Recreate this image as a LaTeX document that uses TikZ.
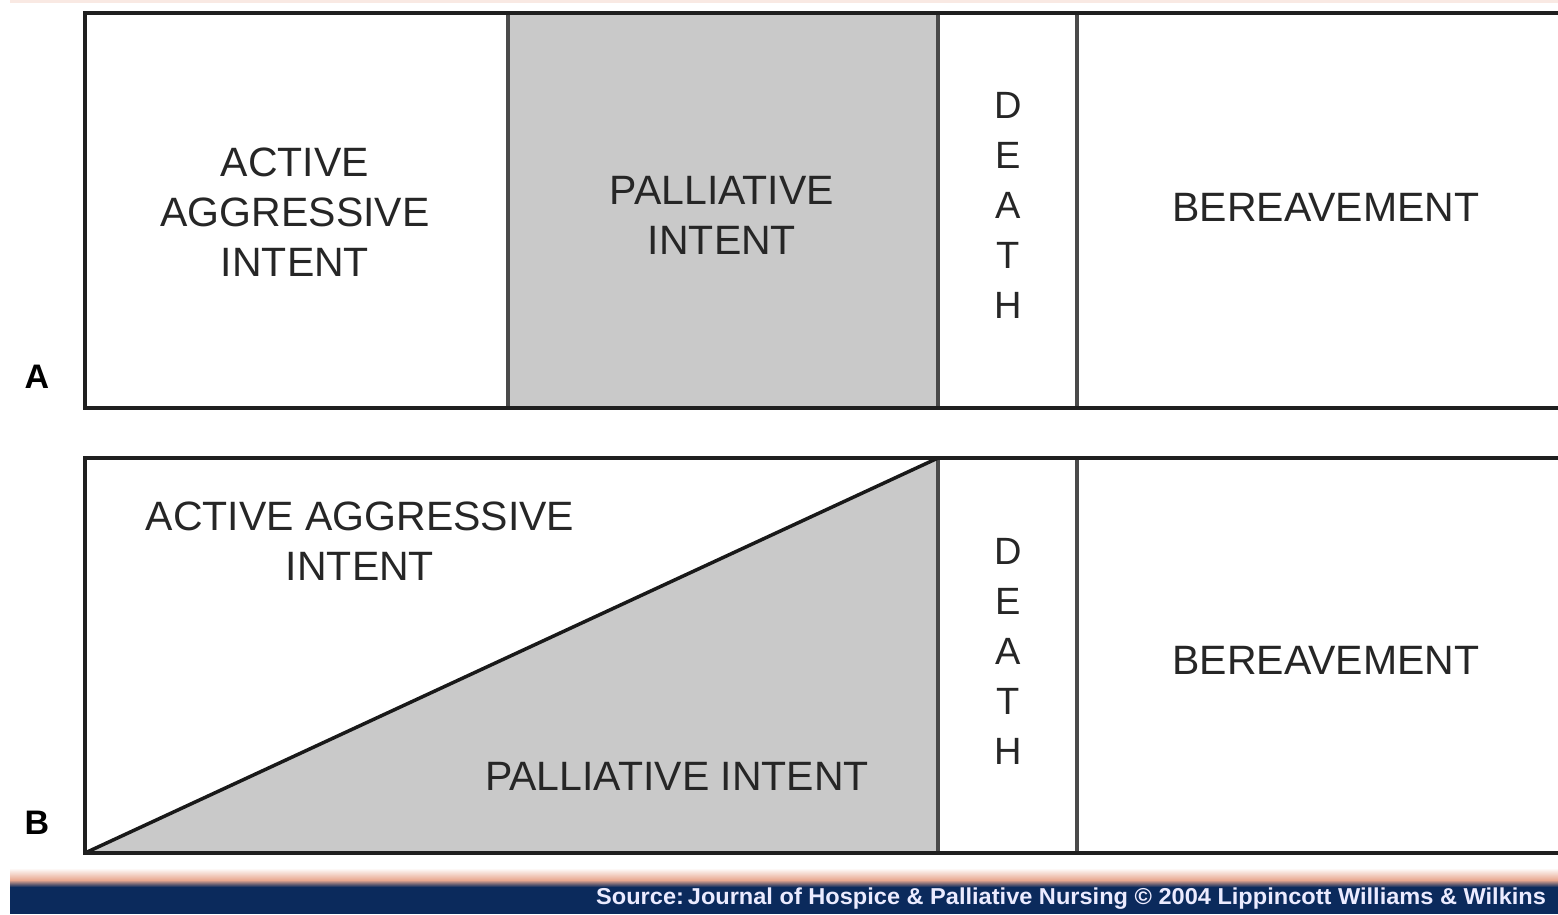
\documentclass[tikz,border=0pt]{standalone}
\usepackage{fontspec}
\setmainfont{Liberation Sans}
\usetikzlibrary{calc}
\definecolor{inkgray}{HTML}{262626}
\definecolor{fillgray}{HTML}{C9C9C9}
\definecolor{rulegray}{HTML}{4A4A4A}
\definecolor{navy}{HTML}{0B2A5C}
\definecolor{salmon}{HTML}{E8A890}
\tikzset{
  frame/.style={line width=4.5pt, draw=black!88},
  divider/.style={line width=4pt, draw=rulegray},
  label/.style={text=inkgray, font=\fontsize{41}{50}\selectfont, align=center, inner sep=0pt},
  deathcol/.style={text=inkgray, font=\fontsize{38}{50}\selectfont, align=center, inner sep=0pt},
  rowtag/.style={text=black, font=\bfseries\fontsize{34}{40}\selectfont, inner sep=0pt},
}
\begin{document}
\begin{tikzpicture}[x=1pt,y=-1pt]
\useasboundingbox (0,0) rectangle (1558,914);
\begin{scope}
\clip (0,0) rectangle (1558,914);
\fill[white] (0,0) rectangle (1558,914);
% faint warm line along the top
\fill[salmon!25] (10,0) rectangle (1558,3);

% ---- row A ----
\fill[fillgray] (508,13) rectangle (938,408);
\draw[divider] (508,13) -- (508,408);
\draw[divider] (938,13) -- (938,408);
\draw[divider] (1077,13) -- (1077,408);
\draw[frame] (1570,13) -- (85,13) -- (85,408) -- (1570,408);

% ---- row B ----
\fill[fillgray] (85,853) -- (938,458) -- (938,853) -- cycle;
\draw[divider] (938,458) -- (938,853);
\draw[divider] (1077,458) -- (1077,853);
\draw[line width=3.5pt, black!90] (85,853) -- (938,458);
\draw[frame] (1570,458) -- (85,458) -- (85,853) -- (1570,853);

% ---- footer band ----
\shade[top color=white, bottom color=salmon] (10,868) rectangle (1558,880);
\shade[top color=salmon, bottom color=navy] (10,880) rectangle (1558,887);
\fill[navy] (10,887) rectangle (1558,914);
\end{scope}

% ---- labels, row A ----
\node[label] (activeA) at (295,212) {ACTIVE\\AGGRESSIVE\\INTENT};
\node[label] (pallA) at (722,215) {PALLIATIVE\\INTENT};
\node[deathcol] (deathA) at (1008,205) {D\\E\\A\\T\\H};
\node[label] (berA) at (1326,207) {BEREAVEMENT};
\node[rowtag] (tagA) at (37,377) {A};

% ---- labels, row B ----
\node[label] (activeB) at (360,541) {ACTIVE AGGRESSIVE\\INTENT};
\node[label] (pallB) at (677,776) {PALLIATIVE INTENT};
\node[deathcol] (deathB) at (1008,651) {D\\E\\A\\T\\H};
\node[label] (berB) at (1326,660) {BEREAVEMENT};
\node[rowtag] (tagB) at (37,823) {B};

% ---- source line ----
\node[anchor=west, text=white!92!blue, font=\bfseries\fontsize{23}{26}\selectfont, inner sep=0pt, xscale=1.025] (source) at (596,899)
  {Source:\,Journal of Hospice \& Palliative Nursing © 2004 Lippincott Williams \& Wilkins};
\end{tikzpicture}
\end{document}
